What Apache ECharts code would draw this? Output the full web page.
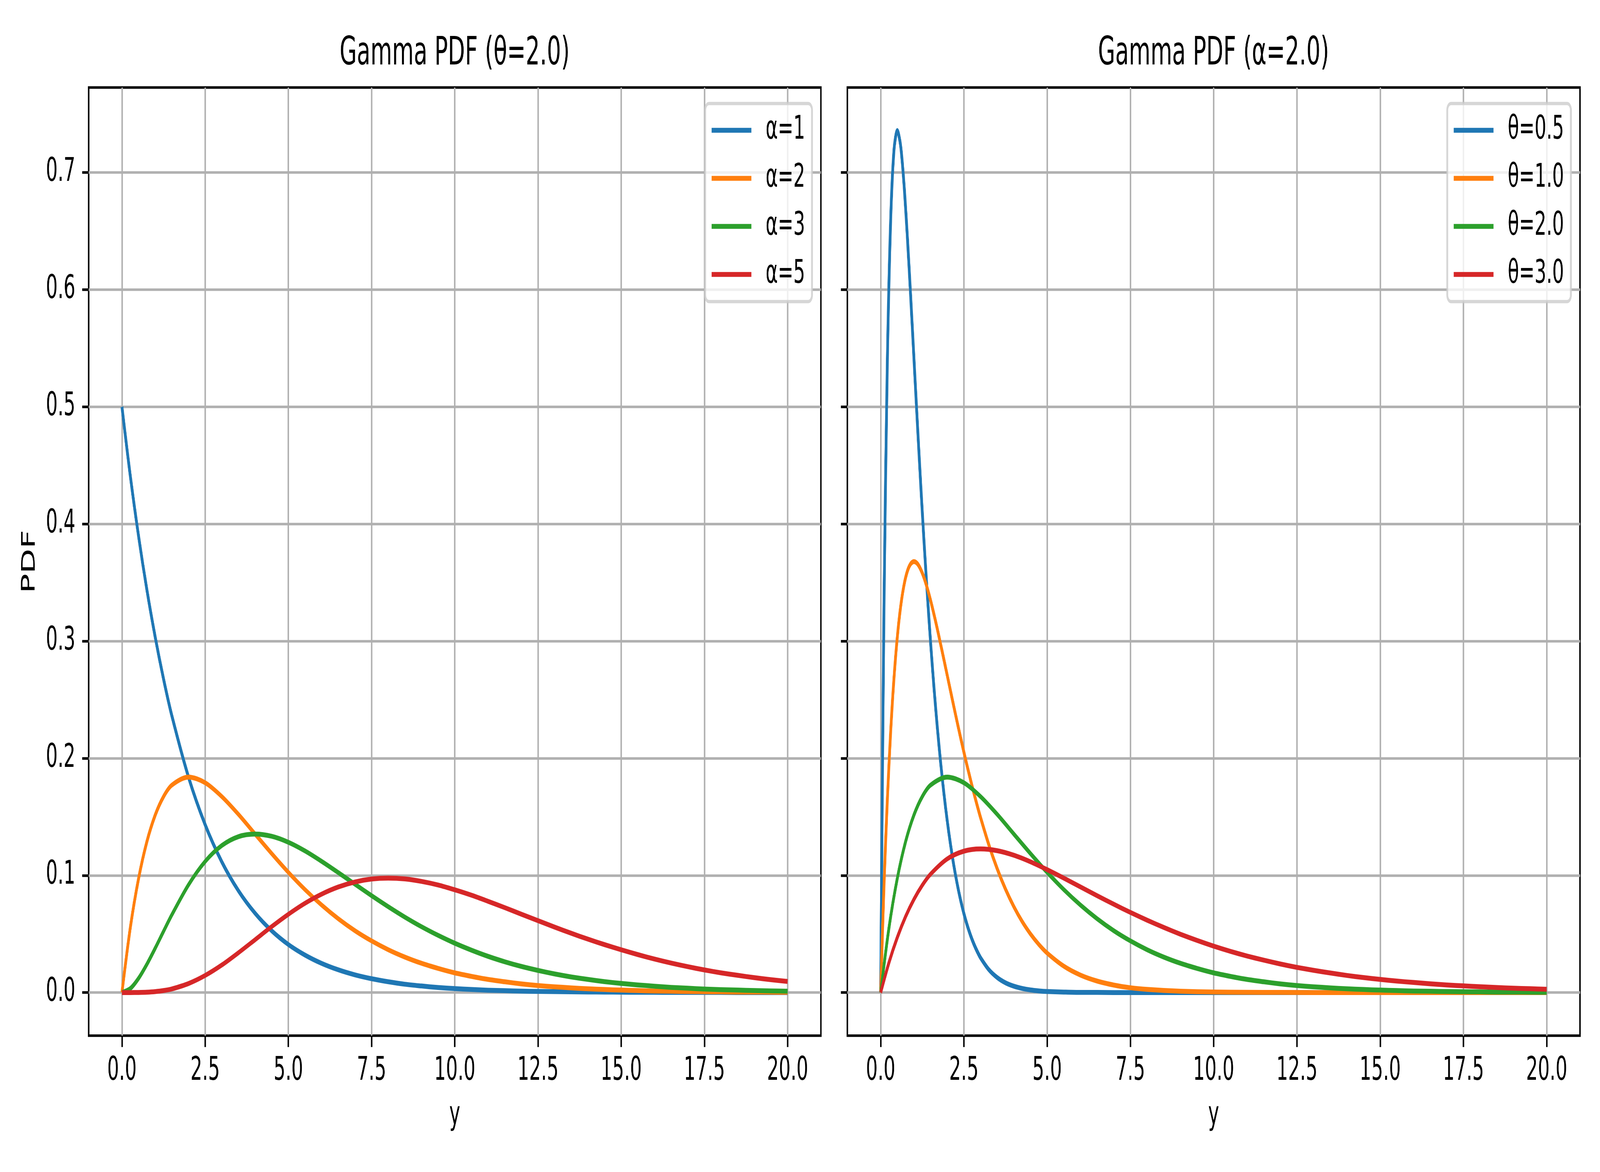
<!DOCTYPE html>
<html>
<head>
<meta charset="utf-8">
<title>Gamma PDF</title>
<script src="https://cdn.jsdelivr.net/npm/echarts@6/dist/echarts.min.js"></script>
<style>
  html, body { margin: 0; padding: 0; background: #fff; overflow: hidden; }
  #chart { width: 7200px; height: 3000px; transform-origin: 0 0; }
</style>
</head>
<body>
<div id="chart"></div>
<script>
// sample points along y for the wider curves
const xCoarse = [0, 0.25, 0.5, 0.75, 1, 1.25, 1.5, 2, 2.5, 3, 3.5, 4, 4.5, 5, 5.5, 6, 6.5, 7, 7.5, 8, 8.5, 9, 9.5,
  10, 10.5, 11, 11.5, 12, 12.5, 13, 13.5, 14, 14.5, 15, 15.5, 16, 16.5, 17, 17.5, 18, 18.5, 19, 19.5, 20];
// denser samples near zero for the narrow peaks on the right
const xFine = [0, 0.1, 0.2, 0.3, 0.4, 0.5, 0.6, 0.7, 0.8, 0.9, 1, 1.1, 1.2, 1.3, 1.4, 1.5, 1.6, 1.7, 1.8, 1.9,
  2, 2.1, 2.2, 2.3, 2.4, 2.5, 2.6, 2.7, 2.8, 2.9, 3, 3.25, 3.5, 3.75, 4, 4.25, 4.5, 4.75, 5, 5.5, 6, 6.5, 7, 7.5, 8,
  9, 10, 11, 12, 13, 14, 15, 16, 17, 18, 19, 20];

const alphaNames = ['α=1', 'α=2', 'α=3', 'α=5'];
const thetaNames = ['θ=0.5', 'θ=1.0', 'θ=2.0', 'θ=3.0'];

// left panel, theta = 2.0 (on xCoarse)
const pdfAlpha1 = [0.5, 0.4412, 0.3894, 0.3436, 0.3033, 0.2676, 0.2362, 0.1839, 0.1433, 0.1116, 0.0869, 0.0677,
  0.0527, 0.0410, 0.0320, 0.0249, 0.0194, 0.0151, 0.0118, 0.0092, 0.0071, 0.0056, 0.0043, 0.0034, 0.0026,
  0.0020, 0.0016, 0.0012, 0.0010, 0.0008, 0.0006, 0.0005, 0.0004, 0.0003, 0.0002, 0.0002, 0.0001, 0.0001,
  0.0001, 0.0001, 0, 0, 0, 0];
const pdfAlpha2 = [0, 0.0552, 0.0974, 0.1289, 0.1516, 0.1673, 0.1771, 0.1839, 0.1791, 0.1673, 0.1521, 0.1353,
  0.1186, 0.1026, 0.0879, 0.0747, 0.0630, 0.0528, 0.0441, 0.0366, 0.0303, 0.0250, 0.0206, 0.0168, 0.0138,
  0.0112, 0.0092, 0.0074, 0.0060, 0.0049, 0.0040, 0.0032, 0.0026, 0.0021, 0.0017, 0.0013, 0.0011, 0.0009,
  0.0007, 0.0006, 0.0004, 0.0004, 0.0003, 0.0002];
const pdfAlpha3 = [0, 0.0034, 0.0122, 0.0242, 0.0379, 0.0523, 0.0664, 0.0920, 0.1119, 0.1255, 0.1331, 0.1353,
  0.1334, 0.1283, 0.1209, 0.1120, 0.1024, 0.0925, 0.0827, 0.0733, 0.0644, 0.0562, 0.0488, 0.0421, 0.0362,
  0.0309, 0.0263, 0.0223, 0.0189, 0.0159, 0.0133, 0.0112, 0.0093, 0.0078, 0.0065, 0.0054, 0.0044, 0.0037,
  0.0030, 0.0025, 0.0021, 0.0017, 0.0014, 0.0011];
const pdfAlpha5 = [0, 0.000005, 0.00006, 0.00028, 0.0008, 0.0017, 0.0031, 0.0077, 0.0146, 0.0235, 0.0340, 0.0451,
  0.0563, 0.0668, 0.0762, 0.0840, 0.0901, 0.0944, 0.0969, 0.0977, 0.0970, 0.0949, 0.0918, 0.0877, 0.0831,
  0.0779, 0.0725, 0.0669, 0.0614, 0.0559, 0.0506, 0.0456, 0.0409, 0.0365, 0.0324, 0.0286, 0.0252, 0.0221,
  0.0193, 0.0168, 0.0147, 0.0127, 0.0110, 0.0095];

// right panel, alpha = 2.0
const pdfTheta05 = [0, 0.3275, 0.5363, 0.6586, 0.7189, 0.7358, 0.7229, 0.6905, 0.6461, 0.5951, 0.5413,
  0.4875, 0.4354, 0.3862, 0.3405, 0.2987, 0.2609, 0.2269, 0.1967, 0.1700, 0.1465, 0.1260, 0.1080, 0.0925,
  0.0790, 0.0674, 0.0574, 0.0488, 0.0414, 0.0351, 0.0297, 0.0195, 0.0128, 0.0083, 0.0054, 0.0035, 0.0022,
  0.0014, 0.0009, 0.0004, 0.0001, 0.0001, 0, 0, 0,
  0, 0, 0, 0, 0, 0, 0, 0, 0, 0, 0, 0];
const pdfTheta1 = [0, 0.0905, 0.1637, 0.2222, 0.2681, 0.3033, 0.3293, 0.3476, 0.3595, 0.3659, 0.3679,
  0.3662, 0.3614, 0.3543, 0.3452, 0.3347, 0.3230, 0.3106, 0.2975, 0.2842, 0.2707, 0.2572, 0.2438, 0.2306,
  0.2177, 0.2052, 0.1931, 0.1815, 0.1703, 0.1596, 0.1494, 0.1260, 0.1057, 0.0882, 0.0733, 0.0606, 0.0500,
  0.0411, 0.0337, 0.0225, 0.0149, 0.0098, 0.0064, 0.0041, 0.0027,
  0.0011, 0.0005, 0.0002, 0.0001, 0, 0, 0, 0, 0, 0, 0, 0];
const pdfTheta2 = [0, 0.0552, 0.0974, 0.1289, 0.1516, 0.1673, 0.1771, 0.1839, 0.1791, 0.1673, 0.1521, 0.1353,
  0.1186, 0.1026, 0.0879, 0.0747, 0.0630, 0.0528, 0.0441, 0.0366, 0.0303, 0.0250, 0.0206, 0.0168, 0.0138,
  0.0112, 0.0092, 0.0074, 0.0060, 0.0049, 0.0040, 0.0032, 0.0026, 0.0021, 0.0017, 0.0013, 0.0011, 0.0009,
  0.0007, 0.0006, 0.0004, 0.0004, 0.0003, 0.0002];
const pdfTheta3 = [0, 0.0256, 0.0470, 0.0649, 0.0796, 0.0916, 0.1011, 0.1141, 0.1207, 0.1226, 0.1211, 0.1172,
  0.1116, 0.1049, 0.0977, 0.0902, 0.0827, 0.0754, 0.0684, 0.0618, 0.0556, 0.0498, 0.0445, 0.0396, 0.0352,
  0.0312, 0.0277, 0.0244, 0.0215, 0.0190, 0.0167, 0.0146, 0.0128, 0.0112, 0.0098, 0.0086, 0.0075, 0.0065,
  0.0057, 0.0050, 0.0043, 0.0037, 0.0033, 0.0028];

const xTicks = [0, 2.5, 5, 7.5, 10, 12.5, 15, 17.5, 20];
const yTicks = [0, 0.1, 0.2, 0.3, 0.4, 0.5, 0.6, 0.7];

const colors = ['#1f77b4', '#ff7f0e', '#2ca02c', '#d62728'];
const PT = 600 / 72; // figure was 600 dpi
const FONT = 'DejaVu Sans';

function pairs(xs, ys) {
  return xs.map((x, i) => [x, ys[i]]);
}

function lineSeries(name, xs, ys, idx, gridIdx) {
  return {
    type: 'line',
    name: name,
    xAxisIndex: gridIdx,
    yAxisIndex: gridIdx,
    data: pairs(xs, ys),
    showSymbol: false,
    symbol: 'none',
    smooth: 0.3,
    color: colors[idx],
    lineStyle: { width: 1.5 * PT, color: colors[idx], join: 'round' },
    emphasis: { disabled: true },
    z: 3
  };
}

function xAxisFor(gridIdx) {
  return {
    type: 'value', gridIndex: gridIdx,
    min: -1, max: 21,
    name: 'y', nameLocation: 'middle', nameGap: 164,
    nameTextStyle: { fontSize: 10 * PT, color: '#000', fontFamily: FONT },
    axisLine: { show: false, onZero: false },
    axisTick: { show: true, length: 3.5 * PT, customValues: xTicks,
      lineStyle: { color: '#000', width: 0.8 * PT } },
    axisLabel: { customValues: xTicks, margin: 50, fontSize: 10 * PT, color: '#000', fontFamily: FONT,
      formatter: v => v.toFixed(1) },
    splitLine: { show: true, lineStyle: { color: '#b0b0b0', width: 0.8 * PT } }
  };
}

function yAxisFor(gridIdx, withLabels) {
  const ax = {
    type: 'value', gridIndex: gridIdx,
    min: -0.0368, max: 0.7726,
    axisLine: { show: false, onZero: false },
    axisTick: { show: true, length: 3.5 * PT, customValues: yTicks,
      lineStyle: { color: '#000', width: 0.8 * PT } },
    axisLabel: { show: withLabels, customValues: yTicks, margin: 60, fontSize: 10 * PT, color: '#000',
      fontFamily: FONT, formatter: v => v.toFixed(1) },
    splitLine: { show: true, lineStyle: { color: '#b0b0b0', width: 0.8 * PT } }
  };
  if (withLabels) {
    ax.name = 'PDF';
    ax.nameLocation = 'middle';
    ax.nameGap = 223;
    ax.nameRotate = 90;
    ax.nameTextStyle = { fontSize: 10 * PT, color: '#000', fontFamily: FONT };
  }
  return ax;
}

function legendFor(names, rightPx) {
  return {
    data: names,
    orient: 'vertical',
    right: rightPx, top: 265,
    padding: [27, 31, 28, 29],
    icon: 'rect',
    itemWidth: 179, itemHeight: 1.5 * PT, itemGap: 40,
    itemStyle: { borderWidth: 0 },
    backgroundColor: 'rgba(255,255,255,0.8)',
    borderColor: 'rgba(204,204,204,0.8)',
    borderWidth: 1 * PT, borderRadius: 17,
    textStyle: { fontSize: 10 * PT, color: '#000', fontFamily: FONT, padding: [0, 0, 0, 59] },
    selectedMode: false,
    z: 10
  };
}

const gridBox = { show: true, borderColor: '#000', borderWidth: 0.8 * PT, backgroundColor: 'transparent' };

const option = {
  animation: false,
  backgroundColor: '#fff',
  title: [
    { text: 'Gamma PDF (θ=2.0)', left: 2046, top: 89, textAlign: 'center', padding: 0,
      textStyle: { fontSize: 12 * PT, fontWeight: 'normal', color: '#000', fontFamily: FONT } },
    { text: 'Gamma PDF (α=2.0)', left: 5461, top: 89, textAlign: 'center', padding: 0,
      textStyle: { fontSize: 12 * PT, fontWeight: 'normal', color: '#000', fontFamily: FONT } }
  ],
  grid: [
    Object.assign({ left: 399, top: 224, width: 3295, height: 2427 }, gridBox),
    Object.assign({ left: 3813, top: 224, width: 3297, height: 2427 }, gridBox)
  ],
  xAxis: [xAxisFor(0), xAxisFor(1)],
  yAxis: [yAxisFor(0, true), yAxisFor(1, false)],
  legend: [legendFor(alphaNames, 3546), legendFor(thetaNames, 131)],
  series: [
    lineSeries(alphaNames[0], xCoarse, pdfAlpha1, 0, 0),
    lineSeries(alphaNames[1], xCoarse, pdfAlpha2, 1, 0),
    lineSeries(alphaNames[2], xCoarse, pdfAlpha3, 2, 0),
    lineSeries(alphaNames[3], xCoarse, pdfAlpha5, 3, 0),
    lineSeries(thetaNames[0], xFine, pdfTheta05, 0, 1),
    lineSeries(thetaNames[1], xFine, pdfTheta1, 1, 1),
    lineSeries(thetaNames[2], xCoarse, pdfTheta2, 2, 1),
    lineSeries(thetaNames[3], xCoarse, pdfTheta3, 3, 1)
  ]
};

const el = document.getElementById('chart');
const chart = echarts.init(el, null, { renderer: 'canvas' });
chart.setOption(option);

// the chart is laid out at 7200x3000; shrink it to fit if the window is smaller
const fx = Math.min(1, window.innerWidth / 7200);
const fy = Math.min(1, window.innerHeight / 3000);
if (fx < 1 || fy < 1) {
  el.style.transform = 'scale(' + fx + ',' + fy + ')';
}
</script>
</body>
</html>
